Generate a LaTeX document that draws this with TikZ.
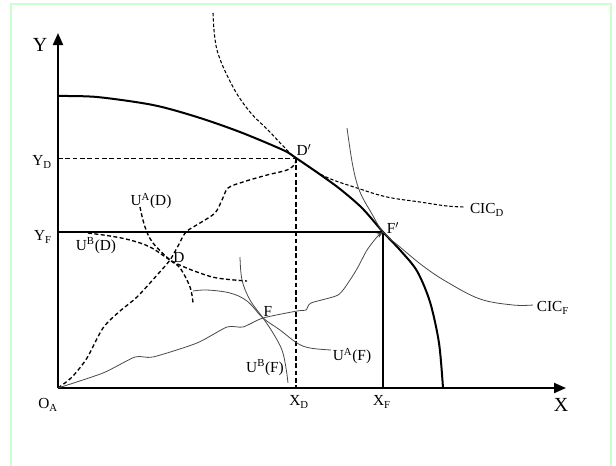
\documentclass[tikz,border=0pt]{standalone}
\usepackage{fontspec}
\setmainfont{Liberation Serif}
\usetikzlibrary{arrows.meta, positioning, calc}
\definecolor{framegreen}{HTML}{CCFFCC}
\definecolor{curvegray}{HTML}{484848}

\begin{document}
\begin{tikzpicture}[x=0.75pt, y=-0.75pt,
  axis/.style={line width=1.5pt, -{Triangle[width=7.5pt,length=9pt]}},
  ppf/.style={line width=1.5pt, line join=round},
  guide/.style={line width=1.2pt},
  dguide/.style={line width=0.6pt, dash pattern=on 3.5pt off 2pt},
  vguide/.style={line width=1.3pt, dash pattern=on 3.5pt off 2pt},
  contract/.style={line width=1pt, dash pattern=on 3pt off 2pt},
  indiff/.style={line width=1pt, dash pattern=on 3pt off 1.8pt},
  cicd/.style={line width=0.8pt, dash pattern=on 2.5pt off 1.5pt},
  thin/.style={line width=0.6pt, draw=curvegray},
  lbl/.style={font=\fontsize{11.5}{13}\selectfont, inner sep=1pt},
  axlbl/.style={font=\fontsize{15}{17}\selectfont, inner sep=1pt}]

\useasboundingbox (0,0) rectangle (616,465);
\draw[framegreen, line width=1.2pt] (11,470) -- (11,4) -- (611,4) -- (611,470);

% points of the diagram
\coordinate (O) at (58,388);
\coordinate (Ytip) at (58,33);
\coordinate (Xtip) at (566,388);
\coordinate (Dp) at (296,158);
\coordinate (Fp) at (383,232);
\coordinate (D) at (170,260);
\coordinate (F) at (263,318);

% axes
\draw[axis] (O) -- (Ytip);
\draw[axis] (O) -- (Xtip);

% production possibility frontier
\draw[ppf] plot[smooth, tension=0.5] coordinates {(58,96) (97,97) (153,105) (197,117) (240,132) (283,150) (Dp) (318,173) (340,189) (362,208) (Fp) (400,250) (417,271) (430,302) (439,343) (443,388)};

% projections of D' and F'
\draw[dguide] (O |- Dp) -- (Dp);
\draw[vguide] (Dp) -- (Dp |- O);
\draw[guide] (O |- Fp) -- (Fp);
\draw[guide] (Fp) -- (Fp |- O);

% community indifference curves
\draw[cicd] plot[smooth, tension=0.6] coordinates {(213,13) (217,50) (233,87) (250,112) (268,130) (285,148) (Dp) (324,176) (357,188) (387,197) (420,202) (447,206) (465,207)};
\draw[thin] plot[smooth, tension=0.6] coordinates {(347,128) (353,167) (360,192) (372,214) (Fp) (400,247) (423,266) (447,282) (480,299) (513,305) (533,305)};

% contract curves
\draw[contract] plot[smooth, tension=0.5] coordinates {(O) (72,377) (87,358) (103,328) (120,311) (137,297) (158,274) (D) (178,246) (186,232) (200,223) (215,213) (222,200) (228,188) (243,182) (267,175) (287,170) (295,164) (Dp)};
\draw[thin, -{Stealth[length=5pt,width=3.5pt]}] plot[smooth, tension=0.4] coordinates {(O) (103,373) (135,357) (153,357) (197,343) (227,327) (243,327) (F) (297,311) (306,310) (311,303) (338,295) (350,280) (358,267) (367,250) (377,237) (Fp)};

% utility curves through D
\draw[indiff] plot[smooth, tension=0.6] coordinates {(140,207) (145,227) (153,243) (D) (180,268) (190,287) (193,303)};
\draw[indiff] plot[smooth, tension=0.6] coordinates {(88,233) (110,236) (130,240) (150,247) (D) (182,266) (197,272) (217,278) (247,281)};

% utility curves through F
\draw[thin] plot[smooth, tension=0.6] coordinates {(193,291) (207,290) (230,293) (247,301) (F) (280,330) (297,343) (310,348) (331,350)};
\draw[thin] plot[smooth, tension=0.6] coordinates {(240,257) (242,280) (250,300) (F) (273,333) (282,350) (286,368) (288,383)};

% labels
\node[axlbl] (ylab) at (40,45) {Y};
\node[axlbl] (xlab) at (561,405) {X};
\node[lbl] (olab) at (48,405) {O\textsubscript{A}};
\node[lbl] (ydlab) at (42,162) {Y\textsubscript{D}};
\node[lbl] (yflab) at (43,237) {Y\textsubscript{F}};
\node[lbl] (xdlab) at (299,402) {X\textsubscript{D}};
\node[lbl] (xflab) at (382,402) {X\textsubscript{F}};
\node[lbl] (dplab) at (304,150) {D$'$};
\node[lbl] (fplab) at (393,228) {F$'$};
\node[lbl] (dlab) at (179,257) {D};
\node[lbl] (flab) at (268,311) {F};
\node[lbl] (uadlab) at (151,201) {U\textsuperscript{A}(D)};
\node[lbl] (ubdlab) at (96,246) {U\textsuperscript{B}(D)};
\node[lbl] (uaflab) at (352,356) {U\textsuperscript{A}(F)};
\node[lbl] (ubflab) at (265,368) {U\textsuperscript{B}(F)};
\node[lbl] (cicdlab) at (487,210) {CIC\textsubscript{D}};
\node[lbl] (ciclab) at (553,308) {CIC\textsubscript{F}};

\end{tikzpicture}
\end{document}
